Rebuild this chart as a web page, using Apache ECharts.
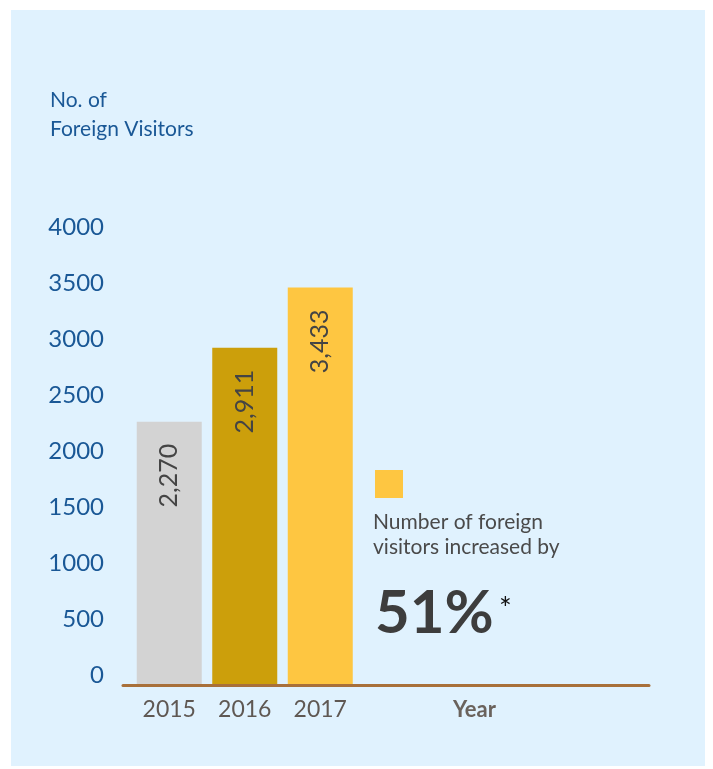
<!DOCTYPE html>
<html>
<head>
<meta charset="utf-8">
<script src="https://cdn.jsdelivr.net/npm/echarts@6/dist/echarts.min.js"></script>
<style>
html,body{margin:0;padding:0;background:#ffffff;}
#chart{width:713px;height:769px;}
</style>
</head>
<body>
<div id="chart"></div>
<script>
const years = ['2015', '2016', '2017'];
const visitors = [2270, 2911, 3433];
const barColors = ['#d3d3d3', '#cc9f0b', '#fec641'];
const yTicks = [0, 500, 1000, 1500, 2000, 2500, 3000, 3500, 4000];
const titleLines = ['No. of', 'Foreign Visitors'];
const noteLines = ['Number of foreign', 'visitors increased by'];
const increaseText = '51%';

const FONT = 'Lato, "Noto Sans", sans-serif';

const chart = echarts.init(document.getElementById('chart'), null, {renderer: 'canvas'});

const option = {
  backgroundColor: '#ffffff',
  animation: false,
  grid: [
    {left: 131.5, width: 226.5, top: 222, bottom: 769 - 684, containLabel: false},
    {left: 123, right: 713 - 649, top: 227, bottom: 769 - 675, containLabel: false}
  ],
  xAxis: [
    {
      type: 'category', gridIndex: 0, data: years,
      axisLine: {show: false}, axisTick: {show: false}, splitLine: {show: false},
      axisLabel: {color: '#5f5853', fontFamily: FONT, fontSize: 23, margin: 14}
    },
    {
      type: 'value', gridIndex: 1, min: 0, max: 1, offset: 10.5,
      axisLine: {show: true, onZero: false, lineStyle: {color: '#a8703a', width: 3}},
      axisTick: {show: false}, axisLabel: {show: false}, splitLine: {show: false}
    }
  ],
  yAxis: [
    {
      type: 'value', gridIndex: 0, min: 0, max: 4000, interval: 500,
      show: false, splitLine: {show: false}
    },
    {
      type: 'value', gridIndex: 1, min: 0, max: 4000, interval: 500,
      axisLine: {show: false}, axisTick: {show: false}, splitLine: {show: false},
      axisLabel: {color: '#1a5896', fontFamily: FONT, fontSize: 24, margin: 19,
        formatter: v => yTicks.includes(v) ? String(v) : ''}
    }
  ],
  series: [
    {
      type: 'bar', xAxisIndex: 0, yAxisIndex: 0,
      barWidth: 65,
      data: visitors.map((v, i) => ({value: v, itemStyle: {color: barColors[i]}})),
      label: {
        show: true, position: 'insideTop', rotate: 90, align: 'right', verticalAlign: 'middle',
        distance: 22, color: '#444444', fontFamily: FONT, fontSize: 25,
        formatter: p => p.value.toLocaleString('en-US')
      }
    }
  ],
  graphic: [
    {type: 'rect', z: -100, silent: true, shape: {x: 11, y: 10, width: 694, height: 756}, style: {fill: '#e0f2fe'}},
    {type: 'text', left: 50, top: 86, style: {text: titleLines.join('\n'), fill: '#1a5896', font: '21px ' + FONT, lineHeight: 29}},
    {type: 'rect', shape: {x: 375, y: 470, width: 28, height: 28}, style: {fill: '#fec641'}},
    {type: 'text', left: 373, top: 510, style: {text: noteLines.join('\n'), fill: '#4a4a4a', font: '21px ' + FONT, lineHeight: 25}},
    {type: 'text', left: 375, top: 584, style: {text: increaseText, fill: '#3d3d3d', font: 'bold 60px ' + FONT}},
    {type: 'text', left: 499, top: 594, style: {text: '*', fill: '#111111', font: '30px ' + FONT}},
    {type: 'text', left: 453, top: 699, style: {text: 'Year', fill: '#6a625c', font: 'bold 22px ' + FONT}}
  ]
};
chart.setOption(option);
</script>
</body>
</html>
